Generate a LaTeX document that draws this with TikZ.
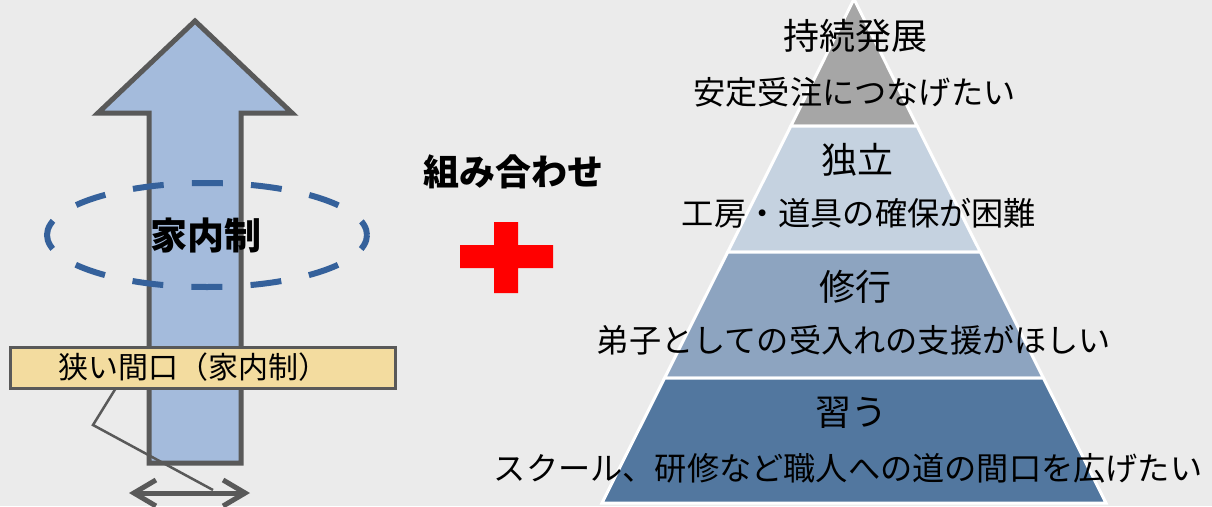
\documentclass[tikz,border=0pt]{standalone}
\usepackage{fontspec}
\setmainfont{Noto Sans CJK JP}
\usetikzlibrary{arrows.meta}
\definecolor{bg}{HTML}{EBEBEB}
\definecolor{dgray}{HTML}{595959}
\definecolor{arrowfill}{HTML}{A4BBDC}
\definecolor{ellcol}{HTML}{35619B}
\definecolor{yellowfill}{HTML}{F3DC9F}
\definecolor{tierA}{HTML}{A6A6A6}
\definecolor{tierB}{HTML}{C5D2E0}
\definecolor{tierC}{HTML}{8DA4C0}
\definecolor{tierD}{HTML}{52779F}
\definecolor{crossred}{HTML}{FF0000}
\tikzset{
  tier/.style={draw=white, line width=3pt, line join=miter},
  ttl/.style={font=\fontsize{36}{40}\selectfont, inner sep=0pt},
  sub/.style={font=\fontsize{32.2}{38}\selectfont, inner sep=0pt},
  boldtxt/.style={font=\bfseries\fontsize{36}{40}\selectfont, inner sep=0pt},
  grayline/.style={draw=dgray, line width=2.5pt},
}
\begin{document}
\begin{tikzpicture}[x=1pt,y=-1pt]
\fill[bg] (0,0) rectangle (1212,506);
\useasboundingbox (0,0) rectangle (1212,506);

% upward arrow
\draw[line width=5pt, draw=dgray, fill=arrowfill, line join=miter]
  (195,21) -- (292,113) -- (241,113) -- (241,463) -- (149,463) -- (149,113) -- (98,113) -- cycle;

% dashed ellipse
\draw[ellcol, line width=6pt, dash pattern=on 31pt off 28.2pt, dash phase=15.5pt]
  (207,235) ellipse [x radius=160, y radius=52];
\node[boldtxt, font=\bfseries\fontsize{37}{40}\selectfont] (kanai) at (206,235) {家内制};

% narrow frontage box
\node[draw=dgray, line width=3pt, fill=yellowfill, minimum width=385pt, minimum height=41pt, inner sep=0pt] (narrow) at (202.5,367.5) {};
\node[font=\fontsize{30}{34}\selectfont, inner sep=0pt] (narrowtxt) at (193,367) {狭い間口（家内制）};

% callout and width arrow
\coordinate (c1) at (93,425);
\coordinate (c2) at (213,490);
\draw[grayline, line join=miter] ([xshift=-87.5pt]narrow.south) -- (c1) -- (c2);
\coordinate (dl) at (129,493);
\coordinate (dr) at (250,493);
\draw[dgray, line width=5pt, {Straight Barb[length=22pt,width=26pt]}-{Straight Barb[length=22pt,width=26pt]}] (dl) -- (dr);

% combine
\node[boldtxt] (kumi) at (513,172) {組み合わせ};
\fill[crossred] (460,245) -- (494,245) -- (494,222) -- (518,222) -- (518,245) -- (553,245)
  -- (553,268) -- (518,268) -- (518,293) -- (494,293) -- (494,268) -- (460,268) -- cycle;

% pyramid
\path[tier, fill=tierA] (854,-1) -- (917.1,126) -- (790.9,126) -- cycle;
\path[tier, fill=tierB] (790.9,126) -- (917.1,126) -- (980.3,252) -- (727.7,252) -- cycle;
\path[tier, fill=tierC] (727.7,252) -- (980.3,252) -- (1043.4,378) -- (664.6,378) -- cycle;
\path[tier, fill=tierD] (664.6,378) -- (1043.4,378) -- (1106,503) -- (602,503) -- cycle;

\node[ttl] (t1) at (855,36) {持続発展};
\node[sub] (s1) at (854.5,92) {安定受注につなげたい};
\node[ttl] (t2) at (857,160) {独立};
\node[sub] (s2) at (859,213) {工房・道具の確保が困難};
\node[ttl] (t3) at (855,287) {修行};
\node[sub] (s3) at (854,340) {弟子としての受入れの支援がほしい};
\node[ttl] (t4) at (851,413) {習う};
\node[sub] (s4) at (848,468) {スクール、研修など職人への道の間口を広げたい};
\end{tikzpicture}
\end{document}
